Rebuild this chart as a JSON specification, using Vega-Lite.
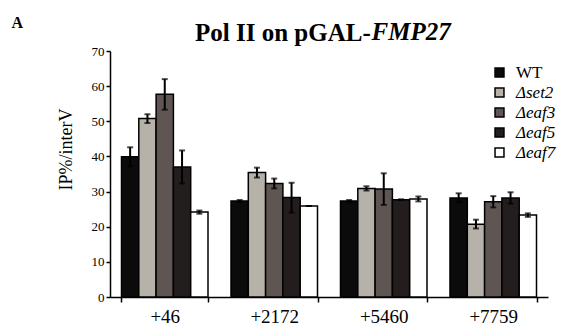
{
  "$schema": "https://vega.github.io/schema/vega-lite/v6.json",
  "autosize": {"type": "none"},
  "padding": {"left": 110, "top": 51, "right": 14, "bottom": 30},
  "width": 438,
  "height": 246,
  "background": "white",
  "config": {
    "font": "Liberation Serif",
    "view": {"stroke": null},
    "axis": {"domainColor": "black", "tickColor": "black", "labelColor": "black", "titleColor": "black", "grid": false}
  },
  "title": {
    "text": "Pol II on pGAL-",
    "anchor": "start",
    "frame": "group",
    "dx": 85,
    "offset": 0,
    "dy": 52,
    "baseline": "alphabetic",
    "font": "Liberation Serif",
    "fontSize": 25,
    "fontWeight": "bold",
    "color": "black"
  },
  "data": {
    "values": [
      {"pos": "+46", "strain": "WT", "value": 39.9, "lo": 37.2, "hi": 42.6},
      {"pos": "+46", "strain": "Δset2", "value": 50.8, "lo": 49.5, "hi": 52.0},
      {"pos": "+46", "strain": "Δeaf3", "value": 57.7, "lo": 53.3, "hi": 62.0},
      {"pos": "+46", "strain": "Δeaf5", "value": 37.0, "lo": 32.3, "hi": 41.7},
      {"pos": "+46", "strain": "Δeaf7", "value": 24.2, "lo": 23.7, "hi": 24.6},
      {"pos": "+2172", "strain": "WT", "value": 27.3, "lo": 27.0, "hi": 27.6},
      {"pos": "+2172", "strain": "Δset2", "value": 35.4, "lo": 34.0, "hi": 36.8},
      {"pos": "+2172", "strain": "Δeaf3", "value": 32.3, "lo": 30.9, "hi": 33.7},
      {"pos": "+2172", "strain": "Δeaf5", "value": 28.3, "lo": 24.0, "hi": 32.5},
      {"pos": "+2172", "strain": "Δeaf7", "value": 25.9, "lo": 25.9, "hi": 25.9},
      {"pos": "+5460", "strain": "WT", "value": 27.3, "lo": 27.0, "hi": 27.6},
      {"pos": "+5460", "strain": "Δset2", "value": 30.9, "lo": 30.3, "hi": 31.5},
      {"pos": "+5460", "strain": "Δeaf3", "value": 30.7, "lo": 26.2, "hi": 35.2},
      {"pos": "+5460", "strain": "Δeaf5", "value": 27.7, "lo": 27.6, "hi": 27.8},
      {"pos": "+5460", "strain": "Δeaf7", "value": 27.9, "lo": 27.2, "hi": 28.6},
      {"pos": "+7759", "strain": "WT", "value": 28.2, "lo": 27.0, "hi": 29.5},
      {"pos": "+7759", "strain": "Δset2", "value": 20.7, "lo": 19.5, "hi": 22.0},
      {"pos": "+7759", "strain": "Δeaf3", "value": 27.1, "lo": 25.5, "hi": 28.7},
      {"pos": "+7759", "strain": "Δeaf5", "value": 28.2, "lo": 26.6, "hi": 29.8},
      {"pos": "+7759", "strain": "Δeaf7", "value": 23.3, "lo": 22.8, "hi": 23.8}
    ]
  },
  "encoding": {
    "x": {
      "field": "pos", "type": "nominal", "sort": null,
      "scale": {"paddingInner": 0.21, "paddingOuter": 0.105},
      "axis": {
        "labelAngle": 0, "labelFontSize": 19, "labelPadding": 5,
        "tickBand": "extent", "tickSize": 5, "tickWidth": 1.5, "domainWidth": 1.5,
        "title": "A", "titleAngle": 0, "titleX": -99, "titleY": -270,
        "titleAlign": "left", "titleBaseline": "alphabetic",
        "titleFontSize": 16, "titleFontWeight": "bold"
      }
    },
    "xOffset": {
      "field": "strain", "type": "nominal",
      "sort": ["WT", "Δset2", "Δeaf3", "Δeaf5", "Δeaf7"],
      "scale": {"paddingInner": 0, "paddingOuter": 0}
    }
  },
  "layer": [
    {
      "mark": {"type": "bar", "stroke": "black", "strokeWidth": 1.5},
      "encoding": {
        "y": {
          "field": "value", "type": "quantitative",
          "scale": {"domain": [0, 70], "nice": false},
          "axis": {
            "values": [0, 10, 20, 30, 40, 50, 60, 70],
            "labelFontSize": 13, "tickSize": 4, "tickWidth": 1.5, "domainWidth": 1.5,
            "title": "IP%/interV", "titleFontSize": 18, "titleFontWeight": "normal",
            "titlePadding": 16, "titleY": 98
          }
        },
        "fill": {
          "field": "strain", "type": "nominal",
          "scale": {
            "domain": ["WT", "Δset2", "Δeaf3", "Δeaf5", "Δeaf7"],
            "range": ["#0b0b0b", "#b7b2a9", "#5f5654", "#241d1d", "#ffffff"]
          },
          "legend": {
            "title": null, "orient": "none", "legendX": 381, "legendY": 13,
            "symbolType": "square", "symbolSize": 80, "symbolStrokeColor": "black", "symbolStrokeWidth": 1.5,
            "labelFontSize": 17, "labelColor": "black", "labelOffset": 8, "rowPadding": 2, "padding": 0,
            "labelFont": "Liberation Serif",
            "encode": {"labels": {"update": {"fontStyle": {"signal": "datum.label == 'WT' ? 'normal' : 'italic'"}}}}
          }
        }
      }
    },
    {
      "layer": [
        {"mark": {"type": "rule", "color": "black", "strokeWidth": 2}, "encoding": {"y": {"field": "lo", "type": "quantitative"}, "y2": {"field": "hi"}}},
        {"mark": {"type": "tick", "color": "black", "thickness": 2, "size": 6}, "encoding": {"y": {"field": "lo", "type": "quantitative"}}},
        {"mark": {"type": "tick", "color": "black", "thickness": 2, "size": 6}, "encoding": {"y": {"field": "hi", "type": "quantitative"}}}
      ],
      "encoding": {
        "y": {
          "type": "quantitative",
          "scale": {"domain": [0, 70], "nice": false},
          "axis": {
            "orient": "right", "labels": false, "ticks": false, "domain": false,
            "title": "FMP27", "titleAngle": 0, "titleX": -177, "titleY": -12,
            "titleAlign": "left", "titleBaseline": "alphabetic",
            "titleFontSize": 25, "titleFontWeight": "bold", "titleFontStyle": "italic"
          }
        }
      }
    }
  ],
  "resolve": {"scale": {"y": "independent"}, "axis": {"y": "independent"}}
}
